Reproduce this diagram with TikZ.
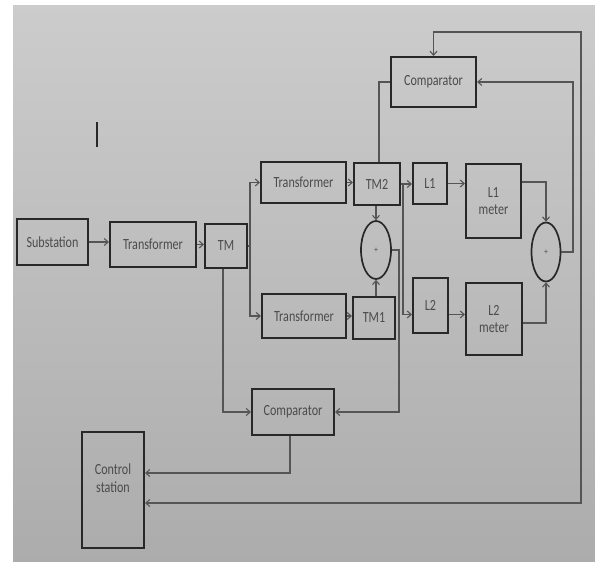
\documentclass[tikz,border=0pt]{standalone}
\usepackage{fontspec}
\setmainfont{Carlito}
\newfontfamily\diag[FakeStretch=0.78]{Carlito}
\usetikzlibrary{arrows.meta,shapes.geometric}
\definecolor{bgtop}{RGB}{204,204,204}
\definecolor{bgbot}{RGB}{172,172,172}
\definecolor{edge}{RGB}{40,40,40}
\definecolor{wire}{RGB}{85,85,85}
\definecolor{txt}{RGB}{75,75,75}
\begin{document}
\begin{tikzpicture}[x=1pt,y=-1pt,
  blk/.style={draw=edge, line width=2pt, inner sep=0pt, font=\diag\fontsize{15.5}{17.5}\selectfont, text=txt, align=center},
  sumnode/.style={ellipse, draw=edge, line width=1.7pt, inner sep=0pt, minimum width=30pt, minimum height=58pt, font=\fontsize{8}{8}\selectfont, text=txt},
  wirestyle/.style={draw=wire, line width=1.1pt},
  tip/.tip={Straight Barb[length=4pt,width=7pt]},
  arr/.style={wirestyle, -tip},
]
\useasboundingbox (0,0) rectangle (595,562);
\fill[white] (0,0) rectangle (595,562);
\shade[top color=bgtop,bottom color=bgbot] (13,5) rectangle (595,562);

% blocks
\node[blk, minimum width=71pt, minimum height=46pt] (sub) at (52.5,242) {Substation};
\node[blk, minimum width=86pt, minimum height=45pt] (tr0) at (153,244.5) {Transformer};
\node[blk, minimum width=42pt, minimum height=44pt] (tm) at (226,246) {TM};
\node[blk, minimum width=85pt, minimum height=41pt] (trA) at (303.5,182.5) {Transformer};
\node[blk, minimum width=84pt, minimum height=44pt] (trB) at (304,316) {Transformer};
\node[blk, minimum width=46pt, minimum height=42pt] (tm2) at (377,184) {TM2};
\node[blk, minimum width=42pt, minimum height=42pt] (tm1) at (374,318) {TM1};
\node[blk, minimum width=34pt, minimum height=41pt] (l1) at (430,183.5) {L1};
\node[blk, minimum width=35pt, minimum height=55pt] (l2) at (430.5,305.5) {L2};
\node[blk, minimum width=55pt, minimum height=74pt] (l1m) at (493.5,201) {L1\\meter};
\node[blk, minimum width=56pt, minimum height=72pt] (l2m) at (494,319) {L2\\meter};
\node[blk, minimum width=85pt, minimum height=50pt] (compT) at (433.5,82) {Comparator};
\node[blk, minimum width=82pt, minimum height=46pt] (compB) at (293,412) {Comparator};
\node[blk, minimum width=62pt, minimum height=116pt,
  label={[yshift=12pt, font=\diag\fontsize{15.5}{17.5}\selectfont, text=txt, align=center]center:Control\\station}] (ctrl) at (113,490) {};
\node[sumnode] (sa) at (376,250) {+};
\node[sumnode, minimum width=29pt, minimum height=59pt] (sb) at (546,252) {+};

% stray mark
\draw[edge, line width=1.4pt] (97,122) -- (97,147);

% coordinates
\coordinate (j1) at (250,246);
\coordinate (j2) at (403,184);
\coordinate (j3) at (399,412);
\coordinate (c1) at (290,473);
\coordinate (r1) at (573,82);
\coordinate (r2) at (581,32);
\coordinate (r3) at (581,503);

% connectors
\draw[arr] (sub.east) -- (sub.east -| tr0.west);
\draw[arr] (tr0.east) -- (tr0.east -| tm.west);
\draw[wirestyle] (tm.east) -- (j1);
\draw[arr] (j1) |- (trA.west);
\draw[arr] (j1) |- (trB.west);
\draw[arr] ([xshift=-3pt]tm.south) |- (compB.west);
\draw[arr] (trA.east) -- (trA.east -| tm2.west);
\draw[arr] (trB.east) -- (trB.east -| tm1.west);
\draw[arr] (tm2.south -| sa.north) -- (sa.north);
\draw[arr] (tm1.north -| sa.south) -- (sa.south);
\draw[arr] (tm2.east) -- (tm2.east -| l1.west);
\draw[arr] (j2) |- ([yshift=-9pt]l2.west);
\draw[arr] (l1.east) -- (l1.east -| l1m.west);
\draw[arr] ([yshift=-9pt]l2.east) -- ([yshift=-9pt]l2.east -| l2m.west);
\draw[arr] (sa.east) -| (j3) -- (compB.east);
\draw[wirestyle] ([xshift=2pt]tm2.north) |- (compT.west);
\draw[arr] (compB.south -| c1) -- (c1) -- (c1 -| ctrl.east);
\draw[arr] ([yshift=19pt]l1m.east) -| (sb.north);
\draw[arr] ([yshift=-4pt]l2m.east) -| (sb.south);
\draw[arr] (sb.east) -| (r1) -- (compT.east);
\draw[wirestyle, tip-tip] (compT.north) |- (r2) -- (r3) -- (r3 -| ctrl.east);
\end{tikzpicture}
\end{document}
